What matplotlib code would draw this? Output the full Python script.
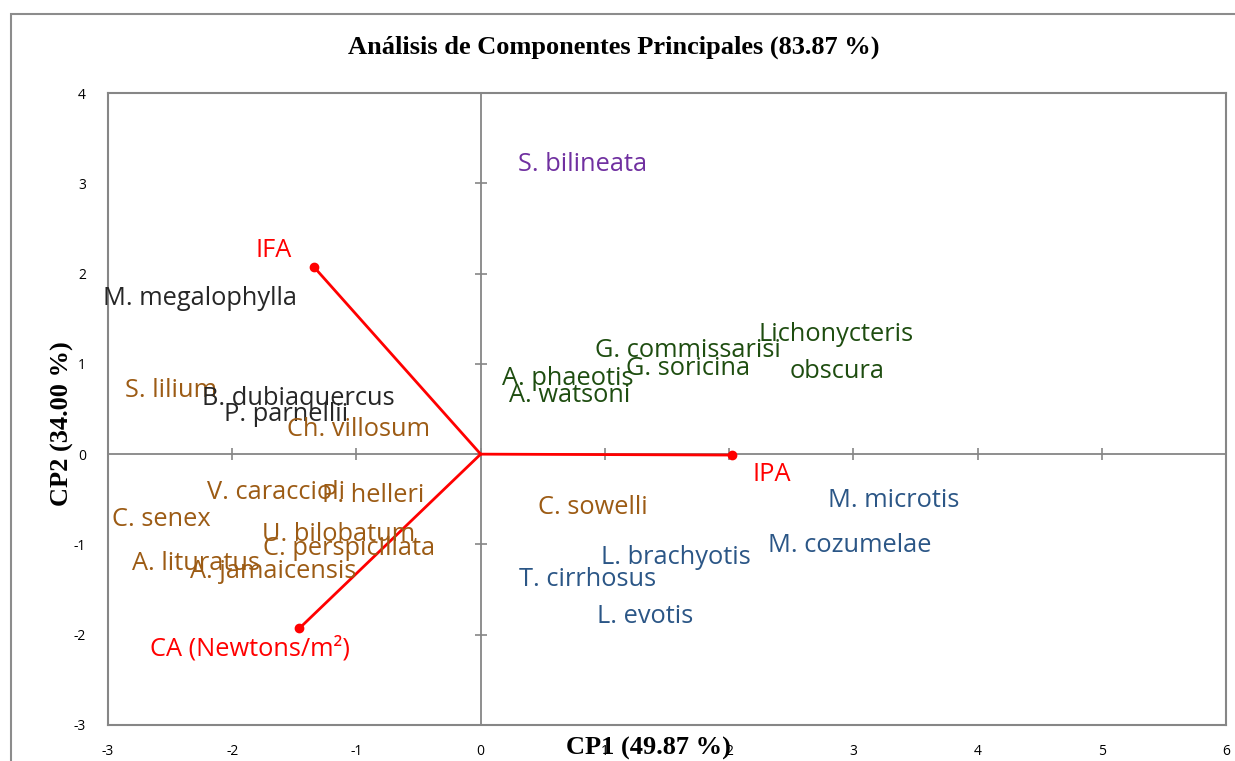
import matplotlib.pyplot as plt
from matplotlib.patches import Rectangle

plt.rcParams['axes.unicode_minus'] = False

# datos de las especies (posición de la etiqueta: x izquierda, y centro)
species = ["S. bilineata", "M. megalophylla", "S. lilium", "B. dubiaquercus", "P. parnellii",
           "Ch. villosum", "G. commissarisi", "Lichonycteris", "obscura", "G. soricina",
           "A. phaeotis", "A. watsoni", "M. microtis", "M. cozumelae", "C. sowelli",
           "L. brachyotis", "T. cirrhosus", "L. evotis", "V. caraccioli", "P. helleri",
           "C. senex", "U. bilobatum", "C. perspicillata", "A. lituratus", "A. jamaicensis"]
sp_x = [0.30, -3.04, -2.86, -2.24, -2.07, -1.56, 0.92, 2.24, 2.49, 1.17,
        0.17, 0.23, 2.80, 2.31, 0.46, 0.97, 0.31, 0.94, -2.20, -1.28,
        -2.97, -1.76, -1.75, -2.81, -2.34]
sp_y = [3.21, 1.72, 0.71, 0.62, 0.44, 0.27, 1.15, 1.32, 0.91, 0.95,
        0.84, 0.65, -0.51, -1.01, -0.59, -1.14, -1.39, -1.80, -0.43, -0.46,
        -0.72, -0.89, -1.04, -1.21, -1.30]
sp_group = ["purple", "black", "brown", "black", "black",
            "brown", "green", "green", "green", "green",
            "green", "green", "blue", "blue", "brown",
            "blue", "blue", "blue", "brown", "brown",
            "brown", "brown", "brown", "brown", "brown"]
group_colors = {"purple": "#7030A0", "black": "#262626", "brown": "#9C5B14",
                "green": "#1E4D10", "blue": "#2B5686"}

# vectores de las variables
var_names = ["IFA", "IPA", "CA (Newtons/m²)"]
var_x = [-1.34, 2.02, -1.46]
var_y = [2.07, -0.01, -1.93]
var_label_x = [-1.81, 2.19, -2.66]
var_label_y = [2.26, -0.22, -2.16]

xticks = list(range(-3, 7))
yticks = list(range(-3, 5))

fig = plt.figure(figsize=(12.35, 7.61), dpi=100)
ax = fig.add_axes([108 / 1235, 1 - 725 / 761, 1118 / 1235, 632 / 761])

# marco exterior
fig.patches.append(Rectangle((11 / 1235, -0.1), 1.2, 1 - 14 / 761 + 0.1, transform=fig.transFigure,
                             fill=False, edgecolor="#8c8c8c", linewidth=1.5))

grey = "#868686"
ax.axhline(0, color=grey, linewidth=1.3, zorder=1)
ax.axvline(0, color=grey, linewidth=1.3, zorder=1)
ax.plot(xticks, [0] * len(xticks), linestyle="none", marker="|", markersize=8,
        color=grey, markeredgewidth=1.2, zorder=1)
ax.plot([0] * len(yticks), yticks, linestyle="none", marker="_", markersize=8,
        color=grey, markeredgewidth=1.2, zorder=1)

for vx, vy in zip(var_x, var_y):
    ax.plot([0, vx], [0, vy], color="red", linewidth=2, zorder=3)
    ax.plot(vx, vy, marker="o", color="red", markersize=6, zorder=3)
for name, lx, ly in zip(var_names, var_label_x, var_label_y):
    ax.text(lx, ly, name, color="red", fontsize=18.3, family="Open Sans", va="center", ha="left")

for name, x, y, g in zip(species, sp_x, sp_y, sp_group):
    ax.text(x, y, name, color=group_colors[g], fontsize=18.3, family="Open Sans",
            va="center", ha="left", zorder=4)

ax.set_xlim(-3, 6)
ax.set_ylim(-3, 4)
ax.set_xticks(xticks)
ax.set_yticks(yticks)
ax.tick_params(length=0, labelsize=10, pad=14)
ax.tick_params(axis="y", pad=16)
for lab in ax.get_xticklabels() + ax.get_yticklabels():
    lab.set_family("Open Sans")
for s in ax.spines.values():
    s.set_color(grey)
    s.set_linewidth(1.5)

fig.text(614 / 1235, 1 - 47 / 761, "Análisis de Componentes Principales (83.87 %)",
         family="Liberation Serif", weight="bold", fontsize=19, ha="center", va="center")
fig.text(648 / 1235, 1 - 748 / 761, "CP1 (49.87 %)",
         family="Liberation Serif", weight="bold", fontsize=19, ha="center", va="center")
fig.text(62 / 1235, 1 - 424 / 761, "CP2 (34.00 %)", rotation=90,
         family="Liberation Serif", weight="bold", fontsize=19, ha="center", va="center")

fig.savefig("out.png", dpi=100)
